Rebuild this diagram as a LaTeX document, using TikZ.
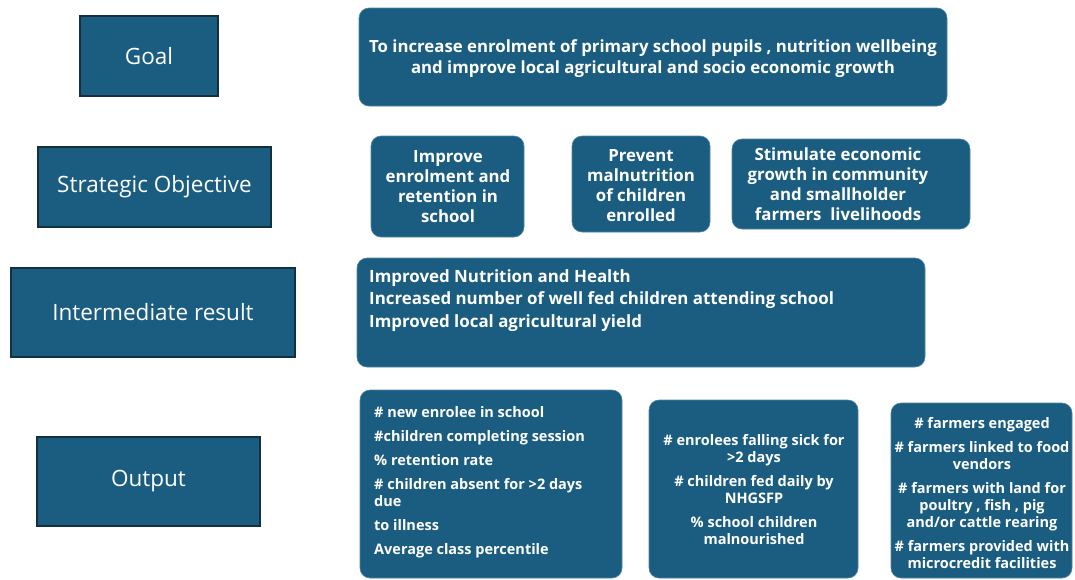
\documentclass[tikz,border=0pt]{standalone}
\usepackage{fontspec}
\setmainfont{Open Sans}
\definecolor{boxblue}{HTML}{1A5D80}
\definecolor{edgedark}{HTML}{13303F}
\definecolor{edgelight}{HTML}{4F86A3}
\begin{document}
\begin{tikzpicture}[x=1pt,y=-1pt,
  lbl/.style={draw=edgedark, line width=1.3pt, fill=boxblue, text=white,
    font=\fontsize{22.5}{26}\selectfont, inner sep=0pt},
  rbox/.style={fill=boxblue, draw=edgelight, line width=0.6pt, rounded corners=10pt, inner sep=0pt,
    text=white, align=center},
  btxt/.style={text=white, font=\bfseries\fontsize{16.8}{20}\selectfont, align=center, inner sep=0pt},
  otxt/.style={text=white, font=\bfseries\fontsize{14.5}{17}\selectfont, inner sep=0pt}]
\useasboundingbox[fill=white] (0,0) rectangle (1075,579);

% left labels
\node[lbl, minimum width=138, minimum height=80] (goal) at (149,56) {Goal};
\node[lbl, minimum width=233, minimum height=80] (strat) at (154.5,187) {Strategic Objective};
\node[lbl, minimum width=284, minimum height=89] (inter) at (153,312.5) {Intermediate result};
\node[lbl, minimum width=223, minimum height=89] (out) at (148.5,481.5) {Output};

% goal
\node[rbox, minimum width=588, minimum height=98] (goalR) at (653,57) {};
\node[btxt, font=\bfseries\fontsize{16.8}{21}\selectfont] (goalT) at (653,59)
  {To increase enrolment of primary school pupils , nutrition wellbeing\\and improve local agricultural and socio economic growth};

% strategic objectives
\node[rbox, minimum width=153, minimum height=101] (impR) at (447.5,186.5) {};
\node[btxt] (impT) at (448,187) {Improve\\enrolment and\\retention in\\school};
\node[rbox, minimum width=138, minimum height=96] (prevR) at (641,184) {};
\node[btxt] (prevT) at (641,186) {Prevent\\malnutrition\\of children\\enrolled};
\node[rbox, minimum width=238, minimum height=90] (stimR) at (851,184) {};
\node[btxt] (stimT) at (838,184) {Stimulate economic\\growth in community\\and smallholder\\farmers\ \ livelihoods};

% intermediate result
\node[rbox, minimum width=568, minimum height=109] (interR) at (641,312.5) {};
\node[btxt, align=left, anchor=north west, font=\bfseries\fontsize{16.9}{22.5}\selectfont] (interT) at (369,269)
  {Improved Nutrition and Health\\Increased number of well fed children attending school\\Improved local agricultural yield};

% outputs
\node[rbox, minimum width=262, minimum height=188] (out1) at (491,484) {};
\node[otxt, align=left, anchor=north west] (out1T) at (374,406)
  {\# new enrolee in school\\[7pt]\#children completing session\\[7pt]\% retention rate\\[7pt]\# children absent for >2 days\\due\\[7pt]to illness\\[7pt]Average class percentile};
\node[rbox, minimum width=209, minimum height=178] (out2) at (753.5,489) {};
\node[otxt, align=center] (out2T) at (754,490)
  {\# enrolees falling sick for\\>2 days\\[7pt]\# children fed daily by\\NHGSFP\\[7pt]\% school children\\malnourished};
\node[rbox, minimum width=181, minimum height=175] (out3) at (981.5,490.5) {};
\node[otxt, align=center] (out3T) at (982,493)
  {\# farmers engaged\\[7pt]\# farmers linked to food\\vendors\\[7pt]\# farmers with land for\\poultry , fish , pig\\and/or cattle rearing\\[7pt]\# farmers provided with\\microcredit facilities};
\end{tikzpicture}
\end{document}
